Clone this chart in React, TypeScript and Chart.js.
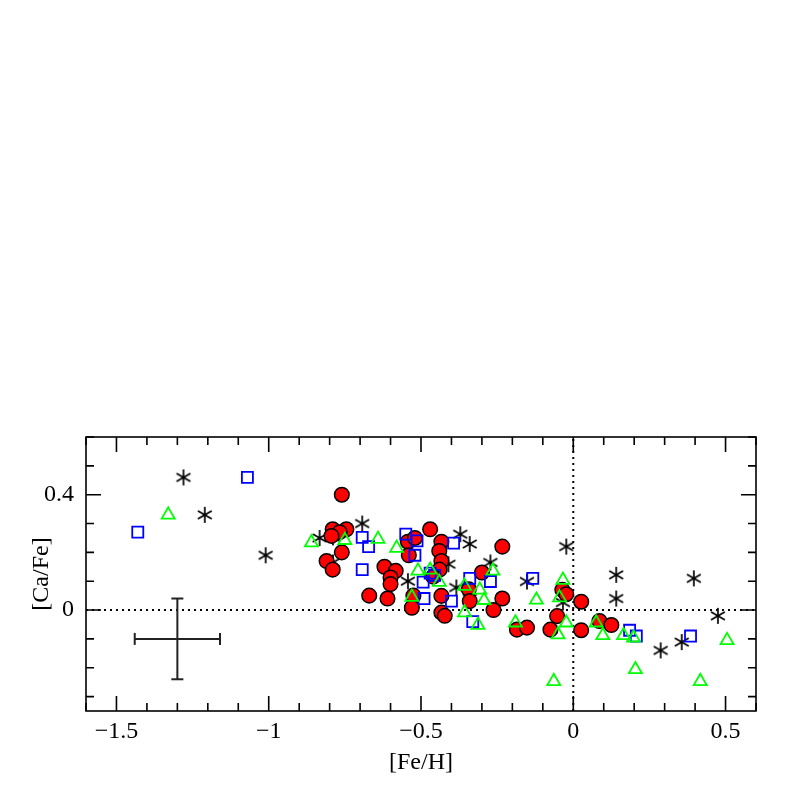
import { useEffect, useRef } from "react";
import { Chart, registerables } from "chart.js";

Chart.register(...registerables);

// ---- axis settings ----
const X_MIN = -1.6;
const X_MAX = 0.6;
const Y_MIN = -0.35;
const Y_MAX = 0.6;
const X_TICKS = [-1.5, -1, -0.5, 0, 0.5];
const Y_TICKS = [0, 0.4];
const X_MINOR_STEP = 0.1;
const Y_MINOR_STEP = 0.1;
const X_MAJOR_STEP = 0.5;
const Y_MAJOR_STEP = 0.4;

// ---- data ([Fe/H], [Ca/Fe]) ----
const redCircles: [number, number][] = [
  [-0.76, 0.4], [-0.79, 0.28], [-0.745, 0.28], [-0.767, 0.27], [-0.794, 0.257],
  [-0.76, 0.2], [-0.81, 0.17], [-0.79, 0.14], [-0.62, 0.15], [-0.583, 0.136],
  [-0.6, 0.113], [-0.6, 0.09], [-0.67, 0.05], [-0.61, 0.04], [-0.543, 0.237],
  [-0.52, 0.25], [-0.47, 0.28], [-0.54, 0.19], [-0.433, 0.237], [-0.44, 0.205],
  [-0.433, 0.17], [-0.439, 0.14], [-0.46, 0.116], [-0.525, 0.05], [-0.53, 0.008],
  [-0.433, 0.049], [-0.433, -0.009], [-0.422, -0.02], [-0.343, 0.072], [-0.34, 0.031],
  [-0.3, 0.13], [-0.233, 0.22], [-0.233, 0.04], [-0.262, 0.0], [-0.185, -0.068],
  [-0.152, -0.061], [-0.075, -0.068], [-0.053, -0.021], [-0.036, 0.07], [-0.023, 0.055],
  [0.026, 0.029], [0.026, -0.07], [0.086, -0.038], [0.125, -0.052],
];

const asterisks: [number, number][] = [
  [-1.28, 0.46], [-1.21, 0.33], [-1.01, 0.19], [-0.833, 0.25], [-0.789, 0.252],
  [-0.693, 0.3], [-0.789, 0.165], [-0.543, 0.1], [-0.41, 0.159], [-0.371, 0.263],
  [-0.34, 0.229], [-0.384, 0.078], [-0.34, 0.04], [-0.272, 0.165], [-0.152, 0.099],
  [-0.023, 0.22], [-0.034, 0.026], [0.141, 0.122], [0.141, 0.04], [0.396, 0.11],
  [0.475, -0.02], [0.287, -0.14], [0.356, -0.111],
];

const blueSquares: [number, number][] = [
  [-1.43, 0.27], [-1.07, 0.46], [-0.693, 0.252], [-0.672, 0.22], [-0.693, 0.14],
  [-0.55, 0.263], [-0.513, 0.24], [-0.52, 0.19], [-0.393, 0.232], [-0.47, 0.128],
  [-0.455, 0.12], [-0.493, 0.097], [-0.49, 0.04], [-0.4, 0.031], [-0.34, 0.11],
  [-0.272, 0.099], [-0.33, -0.04], [-0.133, 0.11], [0.185, -0.07], [0.207, -0.09],
  [0.385, -0.09],
];

const greenTriangles: [number, number][] = [
  [-1.33, 0.33], [-0.86, 0.234], [-0.75, 0.242], [-0.641, 0.246], [-0.58, 0.215],
  [-0.51, 0.136], [-0.47, 0.139], [-0.44, 0.097], [-0.53, 0.045], [-0.357, 0.083],
  [-0.357, -0.009], [-0.264, 0.136], [-0.307, 0.07], [-0.293, 0.034], [-0.313, -0.052],
  [-0.19, -0.044], [-0.121, 0.035], [-0.034, 0.104], [-0.045, 0.043], [-0.023, -0.044],
  [-0.05, -0.085], [-0.064, -0.247], [0.075, -0.044], [0.097, -0.088], [0.165, -0.088],
  [0.198, -0.096], [0.204, -0.206], [0.417, -0.247], [0.505, -0.105],
];

// typical error bar
const errorCenter: [number, number] = [-1.3, -0.1];
const errorX = 0.14;
const errorY = 0.14;

// reference lines at 0
const zeroH: [number, number][] = [[X_MIN, 0], [X_MAX, 0]];
const zeroV: [number, number][] = [[0, Y_MIN], [0, Y_MAX]];

const FONT = "'Liberation Serif', 'DejaVu Serif', serif";
const FONT_SIZE = 24;

const toPts = (arr: [number, number][]) => arr.map(([x, y]) => ({ x, y }));

function makeAsterisk(): HTMLCanvasElement {
  const c = document.createElement("canvas");
  const s = 20;
  c.width = s;
  c.height = s;
  const g = c.getContext("2d")!;
  g.strokeStyle = "#000";
  g.lineWidth = 1.7;
  const r = 8;
  const cx = s / 2;
  const cy = s / 2;
  for (const deg of [90, 30, 150]) {
    const a = (deg * Math.PI) / 180;
    g.beginPath();
    g.moveTo(cx + Math.cos(a) * r, cy - Math.sin(a) * r);
    g.lineTo(cx - Math.cos(a) * r, cy + Math.sin(a) * r);
    g.stroke();
  }
  return c;
}

const fmt = (v: number) => (v < 0 ? "\u2212" + String(Math.abs(v)) : String(v));

const framePlugin = {
  id: "framePlugin",
  afterDraw(chart: any) {
    const { ctx, chartArea } = chart;
    const { left, right, top, bottom } = chartArea;
    const xs = chart.scales.x;
    const ys = chart.scales.y;
    ctx.save();
    ctx.strokeStyle = "#000";
    ctx.lineWidth = 1.6;
    ctx.strokeRect(left, top, right - left, bottom - top);
    ctx.beginPath();
    const nx = Math.round((X_MAX - X_MIN) / X_MINOR_STEP);
    for (let i = 0; i <= nx; i++) {
      const v = X_MIN + i * X_MINOR_STEP;
      const major = Math.abs(v / X_MAJOR_STEP - Math.round(v / X_MAJOR_STEP)) < 1e-6;
      const len = major ? 15 : 8;
      const px = xs.getPixelForValue(v);
      ctx.moveTo(px, bottom);
      ctx.lineTo(px, bottom - len);
      ctx.moveTo(px, top);
      ctx.lineTo(px, top + len);
    }
    const ny = Math.round((Y_MAX - Y_MIN) / Y_MINOR_STEP);
    const y0 = Math.ceil(Y_MIN / Y_MINOR_STEP - 1e-6) * Y_MINOR_STEP;
    for (let i = 0; i <= ny; i++) {
      const v = y0 + i * Y_MINOR_STEP;
      if (v > Y_MAX + 1e-6) break;
      const major = Math.abs(v / Y_MAJOR_STEP - Math.round(v / Y_MAJOR_STEP)) < 1e-6;
      const len = major ? 15 : 8;
      const py = ys.getPixelForValue(v);
      ctx.moveTo(left, py);
      ctx.lineTo(left + len, py);
      ctx.moveTo(right, py);
      ctx.lineTo(right - len, py);
    }
    ctx.stroke();
    ctx.restore();
  },
};

export default function App() {
  const ref = useRef<HTMLCanvasElement | null>(null);
  useEffect(() => {
    if (!ref.current) return;
    const star = makeAsterisk();
    const [ex, ey] = errorCenter;
    const chart = new Chart(ref.current, {
      type: "scatter",
      data: {
        datasets: [
          {
            data: toPts(greenTriangles),
            pointStyle: "triangle",
            pointRadius: 7.5,
            backgroundColor: "rgba(0,0,0,0)",
            borderColor: "#00ff00",
            borderWidth: 1.8,
          },
          {
            data: toPts(blueSquares),
            pointStyle: "rect",
            pointRadius: 7.8,
            backgroundColor: "rgba(0,0,0,0)",
            borderColor: "#0000ff",
            borderWidth: 1.8,
          },
          {
            data: toPts(redCircles),
            pointStyle: "circle",
            pointRadius: 7.3,
            backgroundColor: "#ff0000",
            borderColor: "#000000",
            borderWidth: 1.5,
          },
          {
            data: toPts(asterisks),
            pointStyle: star as any,
            pointRadius: 8,
          },
          {
            data: [{ x: ex - errorX, y: ey }, { x: ex + errorX, y: ey }],
            showLine: true,
            borderColor: "#222",
            borderWidth: 2,
            pointStyle: "line",
            pointRotation: 90,
            pointRadius: 6,
            pointBorderColor: "#222",
            pointBorderWidth: 2,
          },
          {
            data: [{ x: ex, y: ey + errorY }, { x: ex, y: ey - errorY }],
            showLine: true,
            borderColor: "#222",
            borderWidth: 2,
            pointStyle: "line",
            pointRotation: 0,
            pointRadius: 6,
            pointBorderColor: "#222",
            pointBorderWidth: 2,
          },
          {
            data: toPts(zeroH),
            showLine: true,
            borderColor: "#000",
            borderWidth: 2,
            borderDash: [2, 4],
            pointRadius: 0,
          },
          {
            data: toPts(zeroV),
            showLine: true,
            borderColor: "#000",
            borderWidth: 2,
            borderDash: [2, 4],
            pointRadius: 0,
          },
        ] as any,
      },
      options: {
        responsive: false,
        animation: false,
        events: [],
        layout: { padding: { top: 437, right: 41, bottom: 0, left: 0 } },
        plugins: { legend: { display: false }, tooltip: { enabled: false } },
        scales: {
          x: {
            type: "linear",
            min: X_MIN,
            max: X_MAX,
            afterBuildTicks: (s: any) => {
              s.ticks = X_TICKS.map((v) => ({ value: v }));
            },
            afterFit: (s: any) => {
              s.height = 86;
            },
            grid: { display: false, drawTicks: false },
            border: { display: false },
            ticks: {
              padding: 6,
              color: "#000",
              font: { family: FONT, size: FONT_SIZE },
              callback: (v: any) => fmt(Number(v)),
              maxRotation: 0,
              autoSkip: false,
            },
            title: {
              display: true,
              text: "[Fe/H]",
              color: "#000",
              font: { family: FONT, size: FONT_SIZE },
              padding: { top: 0, bottom: 20 },
            },
          },
          y: {
            type: "linear",
            min: Y_MIN,
            max: Y_MAX,
            afterBuildTicks: (s: any) => {
              s.ticks = Y_TICKS.map((v) => ({ value: v }));
            },
            afterFit: (s: any) => {
              s.width = 86;
            },
            grid: { display: false, drawTicks: false },
            border: { display: false },
            ticks: {
              padding: 12,
              color: "#000",
              font: { family: FONT, size: FONT_SIZE },
              callback: (v: any) => fmt(Number(v)),
              autoSkip: false,
            },
            title: {
              display: true,
              text: "[Ca/Fe]",
              color: "#000",
              font: { family: FONT, size: FONT_SIZE },
              padding: { top: 27, bottom: 0 },
            },
          },
        },
      },
      plugins: [framePlugin],
    });
    return () => chart.destroy();
  }, []);
  return (
    <div style={{ position: "absolute", left: 0, top: 0, width: 797, height: 797, background: "#fff" }}>
      <canvas ref={ref} width={797} height={797} style={{ display: "block" }} />
    </div>
  );
}
